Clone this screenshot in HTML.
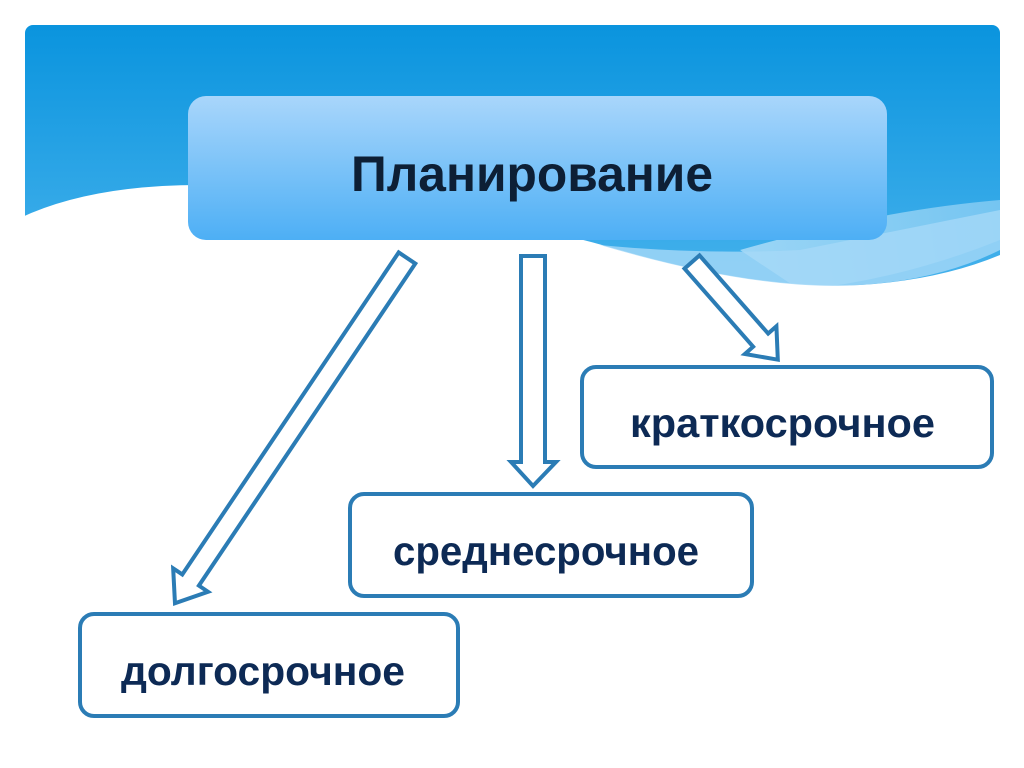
<!DOCTYPE html>
<html><head><meta charset="utf-8"><style>
html,body{margin:0;padding:0;background:#fff;}
svg{display:block;}
text{font-family:"Liberation Sans",sans-serif;font-weight:bold;}
</style></head><body>
<svg width="1024" height="768" viewBox="0 0 1024 768" xmlns="http://www.w3.org/2000/svg">
<defs>
<linearGradient id="bg" x1="0" y1="0" x2="0" y2="1">
<stop offset="0" stop-color="#0a94de"/><stop offset="1" stop-color="#4eb6ee"/>
</linearGradient>
<linearGradient id="bx" x1="0" y1="0" x2="0" y2="1">
<stop offset="0" stop-color="#a9d6fb"/><stop offset="1" stop-color="#4daff5"/>
</linearGradient>
<linearGradient id="lt" x1="0" y1="0" x2="1" y2="0">
<stop offset="0" stop-color="#a6daf7"/><stop offset="1" stop-color="#7cc8f2"/>
</linearGradient>
</defs>
<rect x="25" y="25" width="975" height="300" rx="8" fill="url(#bg)"/>
<path d="M800 290 Q900 280 1000 240 L1000 200 Q880 210 740 250 Z" fill="url(#lt)" opacity="0.9"/>
<path d="M20 218 Q90 185 200 185 Q430 195 620 250 Q760 290 860 285 Q940 280 1000 255 L1000 330 L20 330 Z" fill="#fff"/>
<path d="M600 245 Q760 292 860 285 Q940 280 1000 250 L1000 210 Q900 230 800 250 Q700 255 600 245 Z" fill="#a5d8f7" opacity="0.8"/>
<rect x="188" y="96" width="699" height="144" rx="18" fill="url(#bx)"/>
<text x="532" y="191" font-size="50" fill="#0d1f35" text-anchor="middle" textLength="362" lengthAdjust="spacingAndGlyphs">Планирование</text>

<g fill="#fff" stroke="#2b7cb5" stroke-width="4" stroke-linejoin="miter">
<g transform="translate(407,258) rotate(33.9)">
<path d="M-10 0 L10 0 L10 388 L21 388 L0 416 L-21 388 L-10 388 Z"/>
</g>
<path d="M521 256 L545 256 L545 462 L556 462 L533 486 L511 462 L521 462 Z"/>
<g transform="translate(692,262) rotate(-41.3)">
<path d="M-10 0 L10 0 L10 104 L21 104 L0 130 L-21 104 L-10 104 Z"/>
</g>
</g>

<g fill="#fff" stroke="#2b7cb5" stroke-width="4">
<rect x="582" y="367" width="410" height="100" rx="14"/>
<rect x="350" y="494" width="402" height="102" rx="14"/>
<rect x="80" y="614" width="378" height="102" rx="14"/>
</g>
<g fill="#0d2a55" font-size="41">
<text x="630" y="437" textLength="305" lengthAdjust="spacingAndGlyphs">краткосрочное</text>
<text x="393" y="565" textLength="306" lengthAdjust="spacingAndGlyphs">среднесрочное</text>
<text x="121" y="685" textLength="284" lengthAdjust="spacingAndGlyphs">долгосрочное</text>
</g>
</svg>
</body></html>
